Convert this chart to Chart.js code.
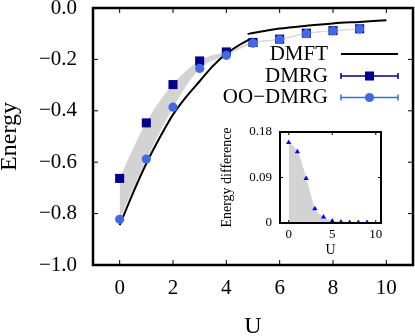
<!DOCTYPE html>
<html>
<head>
<meta charset="utf-8">
<script src="https://cdn.jsdelivr.net/npm/chart.js@4.4.1/dist/chart.umd.min.js"></script>
<style>
  html, body { margin: 0; padding: 0; background: #fff; }
  #wrap { position: relative; width: 415px; height: 336px; }
  #main { position: absolute; left: 0; top: 0; }
  #inset { position: absolute; left: 215px; top: 120px; }
</style>
</head>
<body>
<div id="wrap">
  <canvas id="main" width="415" height="336"></canvas>
  <canvas id="inset" width="180" height="140"></canvas>
</div>
<script>
// valores
const uPoints = [0, 1, 2, 3, 4, 5, 6, 7, 8, 9];
const dmrgEnergy = [-0.663, -0.447, -0.298, -0.206, -0.171, -0.134, -0.121, -0.098, -0.088, -0.081];
const ooDmrgEnergy = [-0.822, -0.588, -0.386, -0.235, -0.184, -0.137, -0.123, -0.100, -0.089, -0.082];
const dmftLowU = [0, 0.5, 1, 1.5, 2, 2.5, 3, 3.5, 4, 4.5, 4.9];
const dmftLowEnergy = [-0.845, -0.72, -0.605, -0.505, -0.415, -0.345, -0.285, -0.225, -0.178, -0.143, -0.12];
const dmftHighU = [4.8, 5, 6, 7, 8, 9, 10];
const dmftHighEnergy = [-0.101, -0.097, -0.080, -0.069, -0.060, -0.054, -0.048];
const energyDiff = [0.159, 0.141, 0.088, 0.028, 0.012, 0.004, 0.002, 0.001, 0.001, 0.001];

const xTickValues = [0, 2, 4, 6, 8, 10];
const yTickValues = [-1, -0.8, -0.6, -0.4, -0.2, 0];
const insetXTickValues = [0, 5, 10];
const insetYTickValues = [0, 0.09, 0.18];
const legendLabels = ['DMFT', 'DMRG', 'OO\u2212DMRG'];

const serif = "'Liberation Serif', 'Times New Roman', serif";
const NAVY = '#00008b';
const ROYAL = '#4169e1';

function pairs(xs, ys) {
    return xs.map((x, i) => ({ x: x, y: ys[i] }));
}

function setTicks(values) {
    return function (scale) {
        scale.ticks = values.map(v => ({ value: v }));
    };
}

// tamanho fixo do eixo, sem o padding extra dos rótulos
function fixSize(prop, size) {
    return function (s) {
        s[prop] = size;
        s.paddingTop = 0; s.paddingBottom = 0;
        s.paddingLeft = 0; s.paddingRight = 0;
    };
}

// moldura + ticks para dentro nos 4 lados
function framePlugin(tickLen, frameWidth) {
    return {
        id: 'frame',
        afterDatasetsDraw(chart) {
            const { ctx, chartArea: a, scales } = chart;
            ctx.save();
            ctx.strokeStyle = '#000';
            ctx.lineWidth = 1;
            ctx.beginPath();
            scales.x.ticks.forEach(t => {
                const px = scales.x.getPixelForValue(t.value);
                ctx.moveTo(px, a.bottom); ctx.lineTo(px, a.bottom - tickLen);
                ctx.moveTo(px, a.top); ctx.lineTo(px, a.top + tickLen);
            });
            scales.y.ticks.forEach(t => {
                const py = scales.y.getPixelForValue(t.value);
                ctx.moveTo(a.left, py); ctx.lineTo(a.left + tickLen, py);
                ctx.moveTo(a.right, py); ctx.lineTo(a.right - tickLen, py);
            });
            ctx.stroke();
            ctx.lineWidth = frameWidth;
            ctx.strokeRect(a.left, a.top, a.right - a.left, a.bottom - a.top);
            ctx.restore();
        }
    };
}

// legenda no estilo gnuplot (texto à esquerda, amostra à direita)
const legendPlugin = {
    id: 'gnuLegend',
    afterDraw(chart) {
        const ctx = chart.ctx;
        const textRight = 328;
        const x0 = 341, x1 = 398, xm = (x0 + x1) / 2;
        const rows = [54, 76, 97.5];
        ctx.save();
        ctx.font = '21px ' + serif;
        ctx.fillStyle = '#000';
        ctx.textAlign = 'right';
        ctx.textBaseline = 'middle';
        legendLabels.forEach((lbl, i) => ctx.fillText(lbl, textRight, rows[i]));

        // DMFT
        ctx.strokeStyle = '#000';
        ctx.lineWidth = 2;
        ctx.beginPath(); ctx.moveTo(x0, rows[0]); ctx.lineTo(x1, rows[0]); ctx.stroke();

        // DMRG / OO-DMRG com barras de erro
        [[rows[1], NAVY], [rows[2], ROYAL]].forEach(([y, col], k) => {
            ctx.strokeStyle = col;
            ctx.lineWidth = 1.5;
            ctx.beginPath();
            ctx.moveTo(x0, y); ctx.lineTo(x1, y);
            ctx.moveTo(x0, y - 3); ctx.lineTo(x0, y + 3);
            ctx.moveTo(x1, y - 3); ctx.lineTo(x1, y + 3);
            ctx.stroke();
            ctx.fillStyle = col;
            if (k === 0) {
                ctx.fillRect(xm - 4.5, y - 4.5, 9, 9);
            } else {
                ctx.beginPath(); ctx.arc(xm, y, 4.6, 0, Math.PI * 2); ctx.fill();
            }
        });
        ctx.restore();
    }
};

const mainChart = new Chart(document.getElementById('main'), {
    type: 'line',
    data: {
        datasets: [
            {
                data: pairs(uPoints, ooDmrgEnergy),
                showLine: false,
                pointStyle: 'circle',
                pointRadius: 4.6,
                pointBackgroundColor: ROYAL,
                pointBorderWidth: 0,
                order: 0
            },
            {
                data: pairs(uPoints, dmrgEnergy),
                showLine: false,
                pointStyle: 'rect',
                pointRadius: 6.4,
                pointBackgroundColor: NAVY,
                pointBorderWidth: 0,
                order: 1
            },
            {
                data: pairs(dmftLowU, dmftLowEnergy),
                borderColor: '#000',
                borderWidth: 2,
                pointRadius: 0,
                cubicInterpolationMode: 'monotone',
                order: 2
            },
            {
                data: pairs(dmftHighU, dmftHighEnergy),
                borderColor: '#000',
                borderWidth: 2,
                pointRadius: 0,
                cubicInterpolationMode: 'monotone',
                order: 3
            },
            {
                data: pairs(uPoints, dmrgEnergy),
                borderColor: '#dcdcdc',
                borderWidth: 1,
                pointRadius: 0,
                cubicInterpolationMode: 'monotone',
                order: 5
            },
            {
                data: pairs(uPoints, ooDmrgEnergy),
                borderColor: '#dcdcdc',
                borderWidth: 1,
                pointRadius: 0,
                cubicInterpolationMode: 'monotone',
                fill: '-1',
                backgroundColor: '#d3d3d3',
                order: 4
            }
        ]
    },
    options: {
        responsive: false,
        animation: false,
        devicePixelRatio: 1,
        layout: { autoPadding: false, padding: { left: 0, top: 8, right: 2, bottom: 0 } },
        plugins: { legend: { display: false }, tooltip: { enabled: false } },
        scales: {
            x: {
                type: 'linear',
                min: -1, max: 11,
                afterBuildTicks: setTicks(xTickValues),
                afterFit: fixSize('height', 71),
                grid: { display: false, drawTicks: false },
                border: { display: false },
                ticks: {
                    color: '#000', padding: 11,
                    font: { family: serif, size: 21 },
                    callback: v => String(v)
                },
                title: {
                    display: true, text: 'U', color: '#000', padding: 0,
                    font: { family: serif, size: 24, lineHeight: 0.8 }
                }
            },
            y: {
                type: 'linear',
                min: -1, max: 0,
                afterBuildTicks: setTicks(yTickValues),
                afterFit: fixSize('width', 93),
                grid: { display: false, drawTicks: false },
                border: { display: false },
                ticks: {
                    color: '#000', padding: 16,
                    font: { family: serif, size: 21 },
                    callback: v => v.toFixed(1).replace('-', '\u2212')
                },
                title: {
                    display: true, text: 'Energy', color: '#000', padding: 0,
                    font: { family: serif, size: 24, lineHeight: 0.8 }
                }
            }
        }
    },
    plugins: [framePlugin(5, 2.5), legendPlugin]
});

// gráfico interno (diferença de energia)
const insetChart = new Chart(document.getElementById('inset'), {
    type: 'line',
    data: {
        datasets: [{
            data: pairs(uPoints, energyDiff),
            borderColor: '#d9d9d9',
            borderWidth: 1,
            backgroundColor: '#d3d3d3',
            fill: 'origin',
            cubicInterpolationMode: 'monotone',
            pointStyle: 'triangle',
            pointRadius: 3,
            pointBackgroundColor: '#0000ff',
            pointBorderWidth: 0
        }]
    },
    options: {
        responsive: false,
        animation: false,
        devicePixelRatio: 1,
        layout: { autoPadding: false, padding: { left: 0, top: 12, right: 14, bottom: 0 } },
        plugins: { legend: { display: false }, tooltip: { enabled: false } },
        scales: {
            x: {
                type: 'linear',
                min: -1, max: 10.6,
                afterBuildTicks: setTicks(insetXTickValues),
                afterFit: fixSize('height', 37),
                grid: { display: false, drawTicks: false },
                border: { display: false },
                ticks: {
                    color: '#000', padding: 4,
                    font: { family: serif, size: 13 },
                    callback: v => String(v)
                },
                title: {
                    display: true, text: 'U', color: '#000', padding: { top: 0, bottom: 3 },
                    font: { family: serif, size: 14, lineHeight: 1 }
                }
            },
            y: {
                type: 'linear',
                min: 0, max: 0.18,
                afterBuildTicks: setTicks(insetYTickValues),
                afterFit: fixSize('width', 65),
                grid: { display: false, drawTicks: false },
                border: { display: false },
                ticks: {
                    color: '#000', padding: 8,
                    font: { family: serif, size: 13 },
                    callback: v => String(v)
                },
                title: {
                    display: true, text: 'Energy difference', color: '#000',
                    padding: { top: 5, bottom: 0 },
                    font: { family: serif, size: 14, lineHeight: 1 }
                }
            }
        }
    },
    plugins: [framePlugin(3, 2)]
});
</script>
</body>
</html>
